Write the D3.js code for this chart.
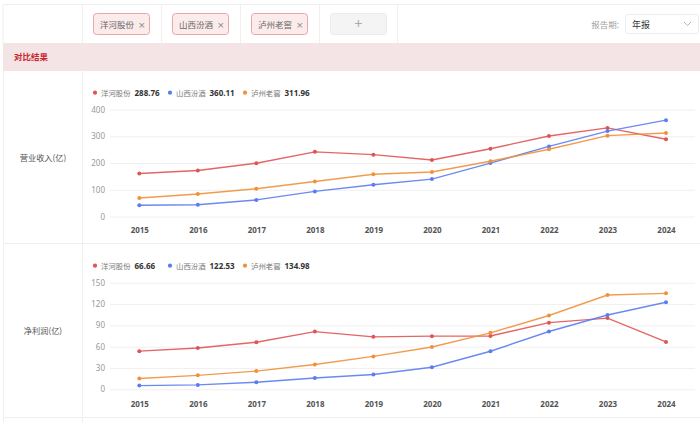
<!DOCTYPE html>
<html><head><meta charset="utf-8">
<script src="https://cdn.jsdelivr.net/npm/d3@7"></script>
<style>
html,body{margin:0;padding:0;background:#fff;}
svg{display:block;font-family:"Noto Sans CJK SC","Noto Sans",sans-serif;}
</style></head>
<body><div id="chart"></div>
<script>
const years = ["2015","2016","2017","2018","2019","2020","2021","2022","2023","2024"];
const companies = ["洋河股份","山西汾酒","泸州老窖"];
const colors = ["#e05454","#5b7cf2","#f0913a"];
// 营业收入(亿)
const revYanghe = [160.5,171.8,199.2,241.6,231.3,211.0,253.5,301.0,331.3,288.76];
const revFenjiu = [41.9,44.0,62.0,93.8,118.8,139.9,199.7,262.1,319.3,360.11];
const revLuzhou = [69.0,84.0,103.9,130.6,158.2,166.5,206.4,251.2,302.3,311.96];
// 净利润(亿)
const npYanghe = [53.7,58.2,66.3,81.2,73.8,74.8,75.1,93.8,100.2,66.66];
const npFenjiu = [5.2,6.2,9.9,15.8,20.8,31.1,53.5,81.3,104.6,122.53];
const npLuzhou = [15.2,19.6,25.6,34.9,46.3,59.6,79.4,103.8,132.6,134.98];
const revTicks = [0,100,200,300,400];
const npTicks = [0,30,60,90,120,150];
const rowLabels = ["营业收入(亿)","净利润(亿)"];
const tagLabels = ["洋河股份","山西汾酒","泸州老窖"];

const W=700,H=422;
const svg = d3.select("#chart").append("svg").attr("width",W).attr("height",H);
svg.append("rect").attr("width",W).attr("height",H).attr("fill","#fff");

// header
const lineC="#efefef";
svg.append("line").attr("x1",3).attr("x2",W).attr("y1",4.5).attr("y2",4.5).attr("stroke",lineC);
[3,82.5,161.5,240.5,319.5,397.5].forEach(x=>{
  svg.append("line").attr("x1",x).attr("x2",x).attr("y1",4.5).attr("y2",43).attr("stroke",lineC);
});
const tagX=[93,172,251];
tagLabels.forEach((t,i)=>{
  const g=svg.append("g").attr("transform",`translate(${tagX[i]},13)`);
  g.append("rect").attr("x",0.5).attr("y",0.5).attr("width",56).attr("height",21).attr("rx",3)
    .attr("fill","#fbebeb").attr("stroke","#e6a9a9");
  g.append("text").attr("x",7).attr("y",14.5).attr("font-size",8.5).attr("fill","#666").text(t);
  g.append("text").attr("x",45).attr("y",14.5).attr("font-size",9).attr("fill","#888").attr("font-family","'DejaVu Sans',sans-serif").text("×");
});
const pg=svg.append("g").attr("transform","translate(330,13)");
pg.append("rect").attr("x",0.5).attr("y",0.5).attr("width",56).attr("height",21).attr("rx",3).attr("fill","#f4f4f4").attr("stroke","#ececec");
pg.append("text").attr("x",28.5).attr("y",16).attr("text-anchor","middle").attr("font-size",14).attr("fill","#aaa").text("+");
svg.append("text").attr("x",619).attr("y",27.5).attr("text-anchor","end").attr("font-size",8.5).attr("fill","#a0a0a0").text("报告期:");
svg.append("rect").attr("x",625.5).attr("y",14.5).attr("width",73).attr("height",19).attr("rx",2).attr("fill","#fff").attr("stroke","#ececec");
svg.append("text").attr("x",632).attr("y",27.5).attr("font-size",9).attr("fill","#333").text("年报");
svg.append("path").attr("d","M684,22 L687.5,25.5 L691,22").attr("fill","none").attr("stroke","#aaa").attr("stroke-width",0.9);

// pink result band
svg.append("rect").attr("x",3).attr("y",43).attr("width",W-3).attr("height",28).attr("fill","#f5e4e6");
svg.append("text").attr("x",14).attr("y",60).attr("font-size",8.5).attr("font-weight","bold").attr("fill","#c8282d").text("对比结果");

// body borders
svg.append("line").attr("x1",3.5).attr("x2",3.5).attr("y1",71).attr("y2",H).attr("stroke",lineC);
svg.append("line").attr("x1",82.5).attr("x2",82.5).attr("y1",71).attr("y2",H).attr("stroke",lineC);
svg.append("line").attr("x1",3).attr("x2",W).attr("y1",243.5).attr("y2",243.5).attr("stroke",lineC);
svg.append("line").attr("x1",3).attr("x2",W).attr("y1",417.5).attr("y2",417.5).attr("stroke",lineC);

const x = d3.scalePoint().domain(years).range([139.3,666]);

function drawChart(cfg){
  const {series, ticks, ymax, top, bottom, legendY, xLabelY, rowLabel, rowY} = cfg;
  const y = d3.scaleLinear().domain([0,ymax]).range([bottom,top]);
  svg.append("text").attr("x",43).attr("y",rowY+3).attr("text-anchor","middle").attr("font-size",8.2).attr("fill","#555").text(rowLabel);
  // grid
  const gAxis = svg.append("g").attr("transform","translate(110,0)")
    .call(d3.axisLeft(y).tickValues(ticks).tickSize(-585).tickPadding(5).tickFormat(d3.format("d")));
  gAxis.select(".domain").remove();
  gAxis.selectAll(".tick line").attr("stroke","#f0f0f0");
  gAxis.selectAll(".tick text").attr("font-size",8).attr("fill","#999").attr("font-family","'Noto Sans','Noto Sans CJK SC',sans-serif");
  // x axis labels
  const gx = svg.append("g").attr("transform",`translate(0,${xLabelY})`)
    .call(d3.axisBottom(x).tickSize(0).tickPadding(0));
  gx.select(".domain").remove();
  gx.selectAll(".tick text").attr("font-size",8).attr("font-weight","bold").attr("fill","#555").attr("dy","0.32em")
    .attr("font-family","'Noto Sans','DejaVu Sans',sans-serif");
  // lines
  const line = d3.line().x((d,i)=>x(years[i])).y(d=>y(d));
  series.forEach((s,k)=>{
    svg.append("path").datum(s).attr("d",line).attr("fill","none").attr("stroke",colors[k]).attr("stroke-width",1.4).attr("stroke-opacity",0.9);
    svg.append("g").selectAll("circle").data(s).join("circle")
      .attr("cx",(d,i)=>x(years[i])).attr("cy",d=>y(d)).attr("r",2).attr("fill",colors[k]);
  });
  // legend
  const lx=[95,170,245];
  series.forEach((s,k)=>{
    const g=svg.append("g").attr("transform",`translate(${lx[k]},${legendY})`);
    g.append("circle").attr("r",2.1).attr("fill",colors[k]);
    g.append("text").attr("x",6).attr("y",3).attr("font-size",7.4).attr("fill","#777").text(companies[k]);
    g.append("text").attr("x",39.5).attr("y",3).attr("font-size",8).attr("font-weight","bold").attr("fill","#333")
      .attr("font-family","'Noto Sans',sans-serif").text(d3.format(".2f")(s[s.length-1]));
  });
}

drawChart({series:[revYanghe,revFenjiu,revLuzhou], ticks:revTicks, ymax:400, top:109.5, bottom:216.5,
  legendY:92.7, xLabelY:230.7, rowLabel:rowLabels[0], rowY:158});
drawChart({series:[npYanghe,npFenjiu,npLuzhou], ticks:npTicks, ymax:150, top:282.7, bottom:389.3,
  legendY:265.7, xLabelY:404, rowLabel:rowLabels[1], rowY:330.7});
</script></body></html>
